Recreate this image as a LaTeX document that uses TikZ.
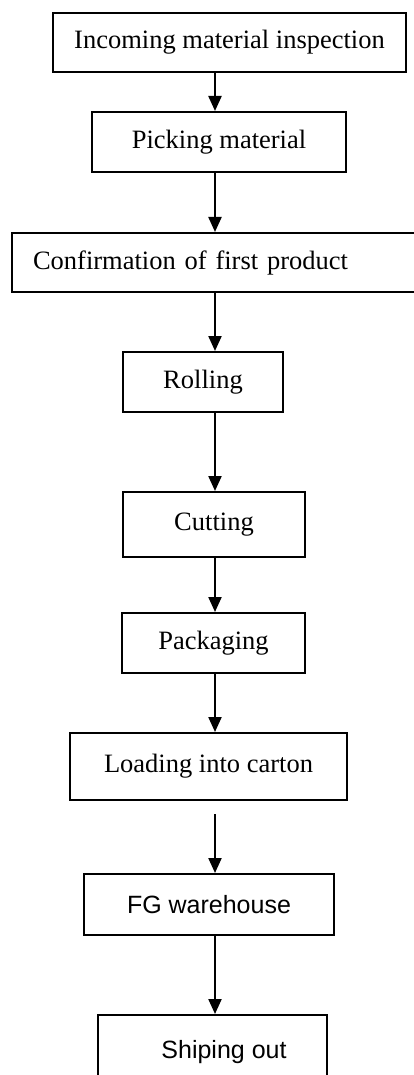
\documentclass[tikz,border=0pt]{standalone}
\usepackage{fontspec}
\setmainfont{Liberation Serif}
\newfontfamily\arialfont{Liberation Sans}
\usetikzlibrary{arrows.meta}

\begin{document}
\begin{tikzpicture}[x=1pt, y=-1pt, >={Triangle[width=13pt,length=15pt]},
	stage/.style={draw, line width=2pt, inner sep=0pt, font=\fontsize{26.5}{30}\selectfont},
	flow/.style={->, line width=2.2pt}]
\useasboundingbox (0,0) rectangle (413,1075);
\coordinate (spine) at (215,0);
\node[stage, minimum width=353pt, minimum height=59pt] (inspect) at (229.5,42.5) {Incoming material inspection};
\node[stage, minimum width=254pt, minimum height=60pt] (pick) at (219,142) {Picking material};
\node[stage, minimum width=420pt, minimum height=59pt, text width=378pt, inner xsep=21pt, align=left] (confirm) at (222,262.5) {Confirmation of first product};
\node[stage, minimum width=160pt, minimum height=60pt] (roll) at (203,382) {Rolling};
\node[stage, minimum width=182pt, minimum height=65pt] (cut) at (214,524.5) {Cutting};
\node[stage, minimum width=183pt, minimum height=60pt] (pack) at (213.5,643) {Packaging};
\node[stage, minimum width=277pt, minimum height=67pt] (carton) at (208.5,766.5) {Loading into carton};
\node[stage, minimum width=250pt, minimum height=61pt, font=\arialfont\fontsize{25}{30}\selectfont] (fg) at (209,904.5) {FG warehouse};
\node[stage, minimum width=229pt, minimum height=75pt, font=\arialfont\fontsize{25}{30}\selectfont] (ship) at (212.5,1052.5) {\hspace*{23pt}Shiping out};
% arrows down the middle
\draw[flow] (inspect.south -| spine) -- (pick.north -| spine);
\draw[flow] (pick.south -| spine) -- (confirm.north -| spine);
\draw[flow] (confirm.south -| spine) -- (roll.north -| spine);
\draw[flow] (roll.south -| spine) -- (cut.north -| spine);
\draw[flow] (cut.south -| spine) -- (pack.north -| spine);
\draw[flow] (pack.south -| spine) -- (carton.north -| spine);
\draw[flow, shorten <=13pt] (carton.south -| spine) -- (fg.north -| spine);
\draw[flow] (fg.south -| spine) -- (ship.north -| spine);
\end{tikzpicture}
\end{document}
